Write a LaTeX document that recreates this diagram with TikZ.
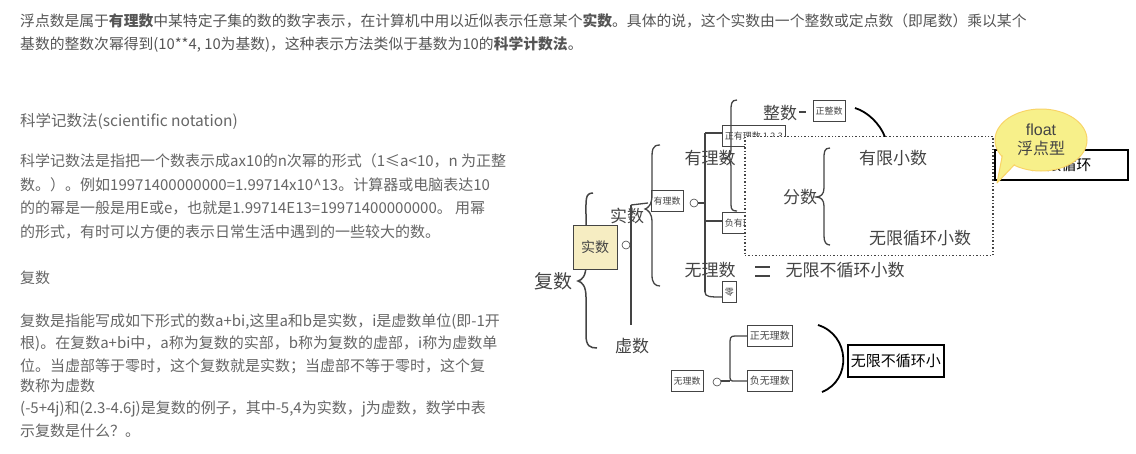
\documentclass[tikz,border=0pt]{standalone}
\usepackage{fontspec}
\setmainfont{Noto Sans CJK SC}
\newfontfamily\fsans{Liberation Sans}
\usetikzlibrary{shapes.geometric}
\definecolor{txt}{HTML}{555555}
\definecolor{hand}{HTML}{666666}
\definecolor{dg}{HTML}{444444}
\definecolor{yel}{HTML}{F7F08A}
\definecolor{tan}{HTML}{F6EDC2}
\tikzset{
 top/.style={anchor=west,font=\fontsize{14.8}{16}\selectfont,text=txt,inner sep=0},
 hw/.style={anchor=west,font=\fontsize{15}{16}\selectfont,text=hand,inner sep=0},
 big/.style={font=\fontsize{17}{19}\selectfont,text=dg,inner sep=0},
 sbox/.style={draw=dg,fill=white,line width=0.8pt,font=\fontsize{9}{10}\selectfont,text=dg,inner sep=2.5pt,minimum height=21pt},
 ln/.style={draw=dg,line width=1.3pt},
 ck/.style={draw=dg,line width=0.6pt,fill=white,circle,minimum size=8pt,inner sep=0}
}
\begin{document}
\begin{tikzpicture}[x=1pt,y=-1pt]
\useasboundingbox (0,0) rectangle (1136,453);
\fill[white] (0,0) rectangle (1136,453);
% top text
\node[top] (t1) at (20,21) {浮点数是属于\textbf{有理数}中某特定子集的数的数字表示，在计算机中用以近似表示任意某个\textbf{实数}。具体的说，这个实数由一个整数或定点数（即尾数）乘以某个};
\node[top] (t2) at (20,45) {基数的整数次幂得到(10**4, 10为基数)，这种表示方法类似于基数为10的\textbf{科学计数法}。};
% left text
\node[hw,font=\fontsize{15.5}{16}\selectfont] (h1) at (20,121) {科学记数法(\textit{scientific notation})};
\node[hw] (p1) at (20,161) {科学记数法是指把一个数表示成ax10的n次幂的形式（1≤a<10，n 为正整};
\node[hw] (p2) at (20,185) {数。）。例如19971400000000=1.99714x10\^{}13。计算器或电脑表达10};
\node[hw] (p3) at (20,208) {的的幂是一般是用E或e，也就是1.99714E13=19971400000000。 用幂};
\node[hw] (p4) at (20,232) {的形式，有时可以方便的表示日常生活中遇到的一些较大的数。};
\node[hw] (h2) at (20,278) {复数};
\node[hw] (q1) at (20,322) {复数是指能写成如下形式的数a+bi,这里a和b是实数，i是虚数单位(即-1开};
\node[hw] (q2) at (20,344) {根)。在复数a+bi中，a称为复数的实部，b称为复数的虚部，i称为虚数单};
\node[hw] (q3) at (20,366) {位。当虚部等于零时，这个复数就是实数；当虚部不等于零时，这个复};
\node[hw] (q4) at (20,386) {数称为虚数};
\node[hw] (q5) at (20,409) {(-5+4j)和(2.3-4.6j)是复数的例子，其中-5,4为实数，j为虚数，数学中表};
\node[hw] (q6) at (20,431) {示复数是什么？。};
% diagram
\node[big,font=\fontsize{19}{21}\selectfont] (fs) at (553,281) {复数};
\draw[ln,line width=1.5pt] (593,193) .. controls (585,193) and (586,200) .. (586,215) -- (586,265) .. controls (586,276) and (582,280) .. (578,281) .. controls (582,282) and (586,286) .. (586,297) -- (586,335) .. controls (586,346) and (590,348) .. (597,348);
\node[draw=dg,fill=tan,minimum width=44pt,minimum height=44pt,inner sep=0,font=\fontsize{14}{15}\selectfont,text=dg] (ss) at (595,247) {实数};
\node[ck] (c1) at (626,245) {};
\node[big] (sn) at (627,216) {实数};
\node[big] (xs) at (632,346) {虚数};
\draw[ln] (631,205) -- (631,325);
\draw[ln] (631,205) -- (648,203);
\node[sbox] (yl) at (667,201) {有理数};
\node[ck] (c2) at (694,203) {};
\draw[ln] (660,145) .. controls (652,145) and (652,150) .. (652,160) -- (652,195) .. controls (652,205) and (648,208) .. (645,209) .. controls (648,210) and (652,213) .. (652,222) -- (652,275) .. controls (652,283) and (655,286) .. (660,286);
\node[big] (ylb) at (710,158) {有理数};
\node[big] (wlb) at (710,270) {无理数};
\draw[ln] (698,203) -- (705,203);
\draw[ln] (705,133) -- (705,292);
\draw[ln] (705,133) -- (722,133);
\draw[ln] (705,221) -- (722,221);
\draw[ln] (705,292) .. controls (705,297) and (710,297) .. (722,297);
\node[sbox,anchor=west] (zy) at (722,136) {正有理数 1.2.3};
\node[sbox,anchor=west] (fy) at (722,223) {负有理数};
\node[sbox,anchor=west] (zero) at (722,292) {零};
\draw[ln] (737,100) .. controls (731,100) and (731,104) .. (731,112) -- (731,150) .. controls (731,156) and (728,158) .. (724,158) .. controls (728,158) and (731,160) .. (731,166) -- (731,205) .. controls (731,210) and (733,211) .. (737,211);
\node[big] (zs) at (780,113) {整数};
\draw[ln] (799,112) -- (806,112);
\node[sbox] (zzs) at (829,111) {正整数};
\draw[line width=1.8pt,black] (855,108) .. controls (868,112) and (880,124) .. (885,137);
% dotted box
\node[draw=dg,dotted,line width=1.4pt,fill=white,minimum width=248pt,minimum height=119pt,inner sep=0] (db) at (869,196) {};
\node[big] (fen) at (800,197) {分数};
\draw[ln] (830,148) .. controls (824,148) and (824,152) .. (824,160) -- (824,188) .. controls (824,194) and (821,197) .. (816,197) .. controls (821,197) and (824,200) .. (824,206) -- (824,236) .. controls (824,242) and (826,245) .. (830,245);
\node[big] (yx) at (893,158) {有限小数};
\node[big] (wx) at (920,238) {无限循环小数};
\draw[ln] (755,267) -- (770,267);
\draw[ln] (755,276) -- (770,276);
\node[big] (wbx) at (845,270) {无限不循环小数};
% right black box and bubble
\node[draw=black,line width=1.8pt,fill=white,minimum width=133pt,minimum height=30pt,inner sep=4pt,anchor=west,font=\fontsize{15}{16}\selectfont] (rb) at (994,165) {\hfill 无限循环};
\coordinate (tip) at (997,183);
\fill[yel,draw=yel!75!orange,line width=1pt] (1041,140) ellipse [x radius=46, y radius=31];
\fill[yel,draw=yel!75!orange,line width=1pt,line join=round] (1003,152) -- (tip) -- (1016,163);
\fill[yel] (1041,140) ellipse [x radius=45, y radius=30];
\fill[yel] (1005,150) -- (1020,162) -- (1030,150) -- cycle;
\node[align=center,font=\fontsize{16}{19}\selectfont,text=dg,inner sep=0] (fl) at (1041,140) {{\fsans float}\\浮点型};
% bottom branch
\node[sbox] (wl2) at (687,381) {无理数};
\node[ck] (c3) at (717,382) {};
\draw[ln] (721,381) -- (730,381);
\draw[ln] (747,336) -- (735,336) .. controls (730,336) and (730,338) .. (730,345) -- (730,374) .. controls (730,381) and (730,381) .. (735,381) -- (747,381);
\node[sbox,anchor=west,font=\fontsize{10}{11}\selectfont] (zw) at (747,336) {正无理数};
\node[sbox,anchor=west,font=\fontsize{10}{11}\selectfont] (fw) at (747,381) {负无理数};
\draw[line width=1.8pt,black] (818,325) .. controls (850,335) and (852,380) .. (822,392);
\node[draw=black,line width=1.5pt,fill=white,minimum height=32pt,inner sep=3pt,anchor=west,font=\fontsize{15}{16}\selectfont] (wbx2) at (847,361) {无限不循环小};
\end{tikzpicture}
\end{document}
